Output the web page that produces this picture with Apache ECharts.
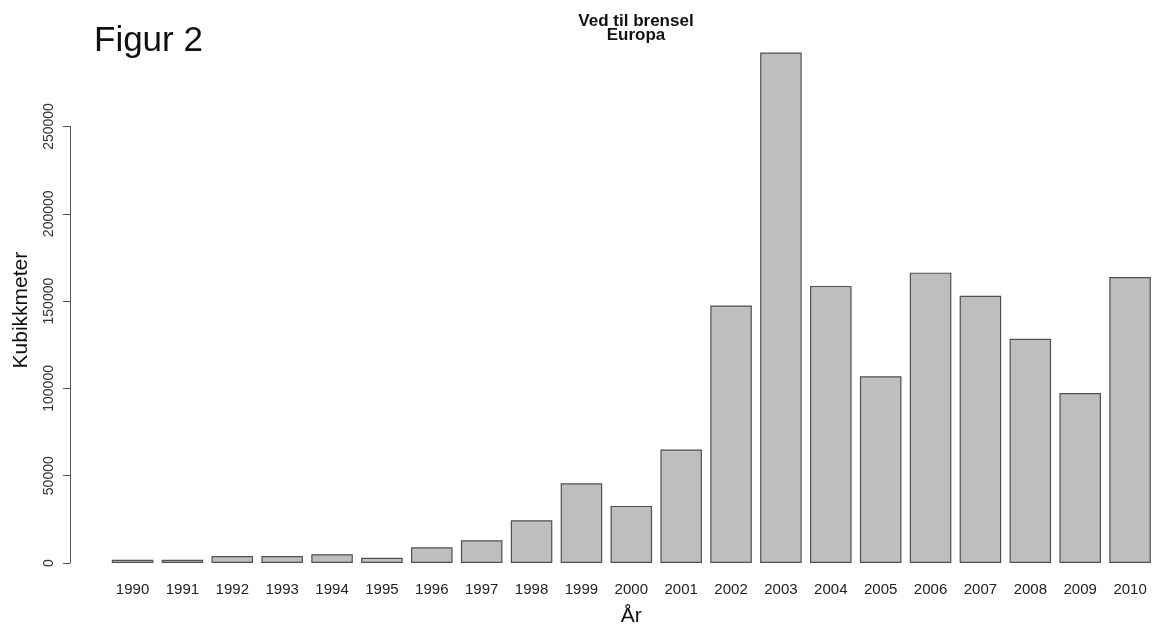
<!DOCTYPE html>
<html>
<head>
<meta charset="utf-8">
<script src="https://cdn.jsdelivr.net/npm/echarts@6/dist/echarts.min.js"></script>
<style>
  html, body { margin: 0; padding: 0; background: #ffffff; }
  #chart { width: 1155px; height: 632px; }
</style>
</head>
<body>
<div id="chart"></div>
<script>
// Ved til brensel, Europa: volume per year (cubic metres)
const years = ['1990','1991','1992','1993','1994','1995','1996','1997','1998','1999',
               '2000','2001','2002','2003','2004','2005','2006','2007','2008','2009','2010'];
const volumes = [1900, 1900, 4000, 4000, 5000, 3000, 9000, 13000, 24500, 45700,
                 32700, 65000, 147500, 292400, 158700, 107000, 166300, 153100, 128400, 97400, 163800];
const yTicks = [0, 50000, 100000, 150000, 200000, 250000];

const FONT = '"Liberation Sans", Arial, sans-serif';
const tickStep = yTicks[1] - yTicks[0];
const tickTop = yTicks[yTicks.length - 1];

// Plot scale: 0 sits at the baseline, 250000 lands where the drawn axis ends.
const baseBottom = 69;
const pxPerUnit = 436.5 / tickTop;
const plotMax = 300000;
const plotTop = 632 - baseBottom - plotMax * pxPerUnit;
const axisTop = 632 - baseBottom - tickTop * pxPerUnit;

const chart = echarts.init(document.getElementById('chart'), null, { renderer: 'canvas' });

chart.setOption({
  backgroundColor: '#ffffff',
  animation: false,
  title: [
    {
      text: 'Figur 2',
      left: 89,
      top: 19,
      textStyle: { fontFamily: FONT, fontSize: 35, fontWeight: 'normal', color: '#111111' }
    },
    {
      text: 'Ved til brensel\nEuropa',
      left: 631,
      top: 10,
      textAlign: 'center',
      textStyle: { fontFamily: FONT, fontSize: 17, fontWeight: 'bold', color: '#111111', lineHeight: 13.5 }
    }
  ],
  grid: [
    { left: 107.6, right: 0, top: plotTop, bottom: baseBottom },
    // narrow grid carrying the value axis that stops at its last tick
    { left: 70, width: 1, top: axisTop, bottom: baseBottom }
  ],
  xAxis: [
    {
      type: 'category',
      gridIndex: 0,
      data: years,
      name: 'År',
      nameLocation: 'middle',
      nameGap: 43,
      nameTextStyle: { fontFamily: FONT, fontSize: 21, color: '#111111' },
      axisLine: { show: false },
      axisTick: { show: false },
      axisLabel: { margin: 19, fontFamily: FONT, fontSize: 15, color: '#222222', interval: 0 }
    },
    { type: 'value', gridIndex: 1, show: false }
  ],
  yAxis: [
    {
      type: 'value',
      gridIndex: 0,
      min: 0,
      max: plotMax,
      name: 'Kubikkmeter',
      nameLocation: 'middle',
      nameRotate: 90,
      nameGap: 76,
      nameTextStyle: { fontFamily: FONT, fontSize: 21, color: '#111111', padding: [0, 18, 0, 0] },
      axisLine: { show: false },
      axisTick: { show: false },
      axisLabel: { show: false },
      splitLine: { show: false }
    },
    {
      type: 'value',
      gridIndex: 1,
      min: yTicks[0],
      max: tickTop,
      interval: tickStep,
      axisLine: { show: true, lineStyle: { color: '#555555', width: 1 } },
      axisTick: { show: true, length: 7, lineStyle: { color: '#555555', width: 1 } },
      axisLabel: {
        rotate: 90,
        margin: 14,
        fontFamily: FONT,
        fontSize: 14,
        color: '#333333',
        formatter: (v) => String(v)
      },
      splitLine: { show: false }
    }
  ],
  series: [
    {
      type: 'bar',
      xAxisIndex: 0,
      yAxisIndex: 0,
      data: volumes,
      barCategoryGap: '16.7%',
      itemStyle: { color: '#bebebe', borderColor: '#505050', borderWidth: 1.2 }
    }
  ]
});
</script>
</body>
</html>
